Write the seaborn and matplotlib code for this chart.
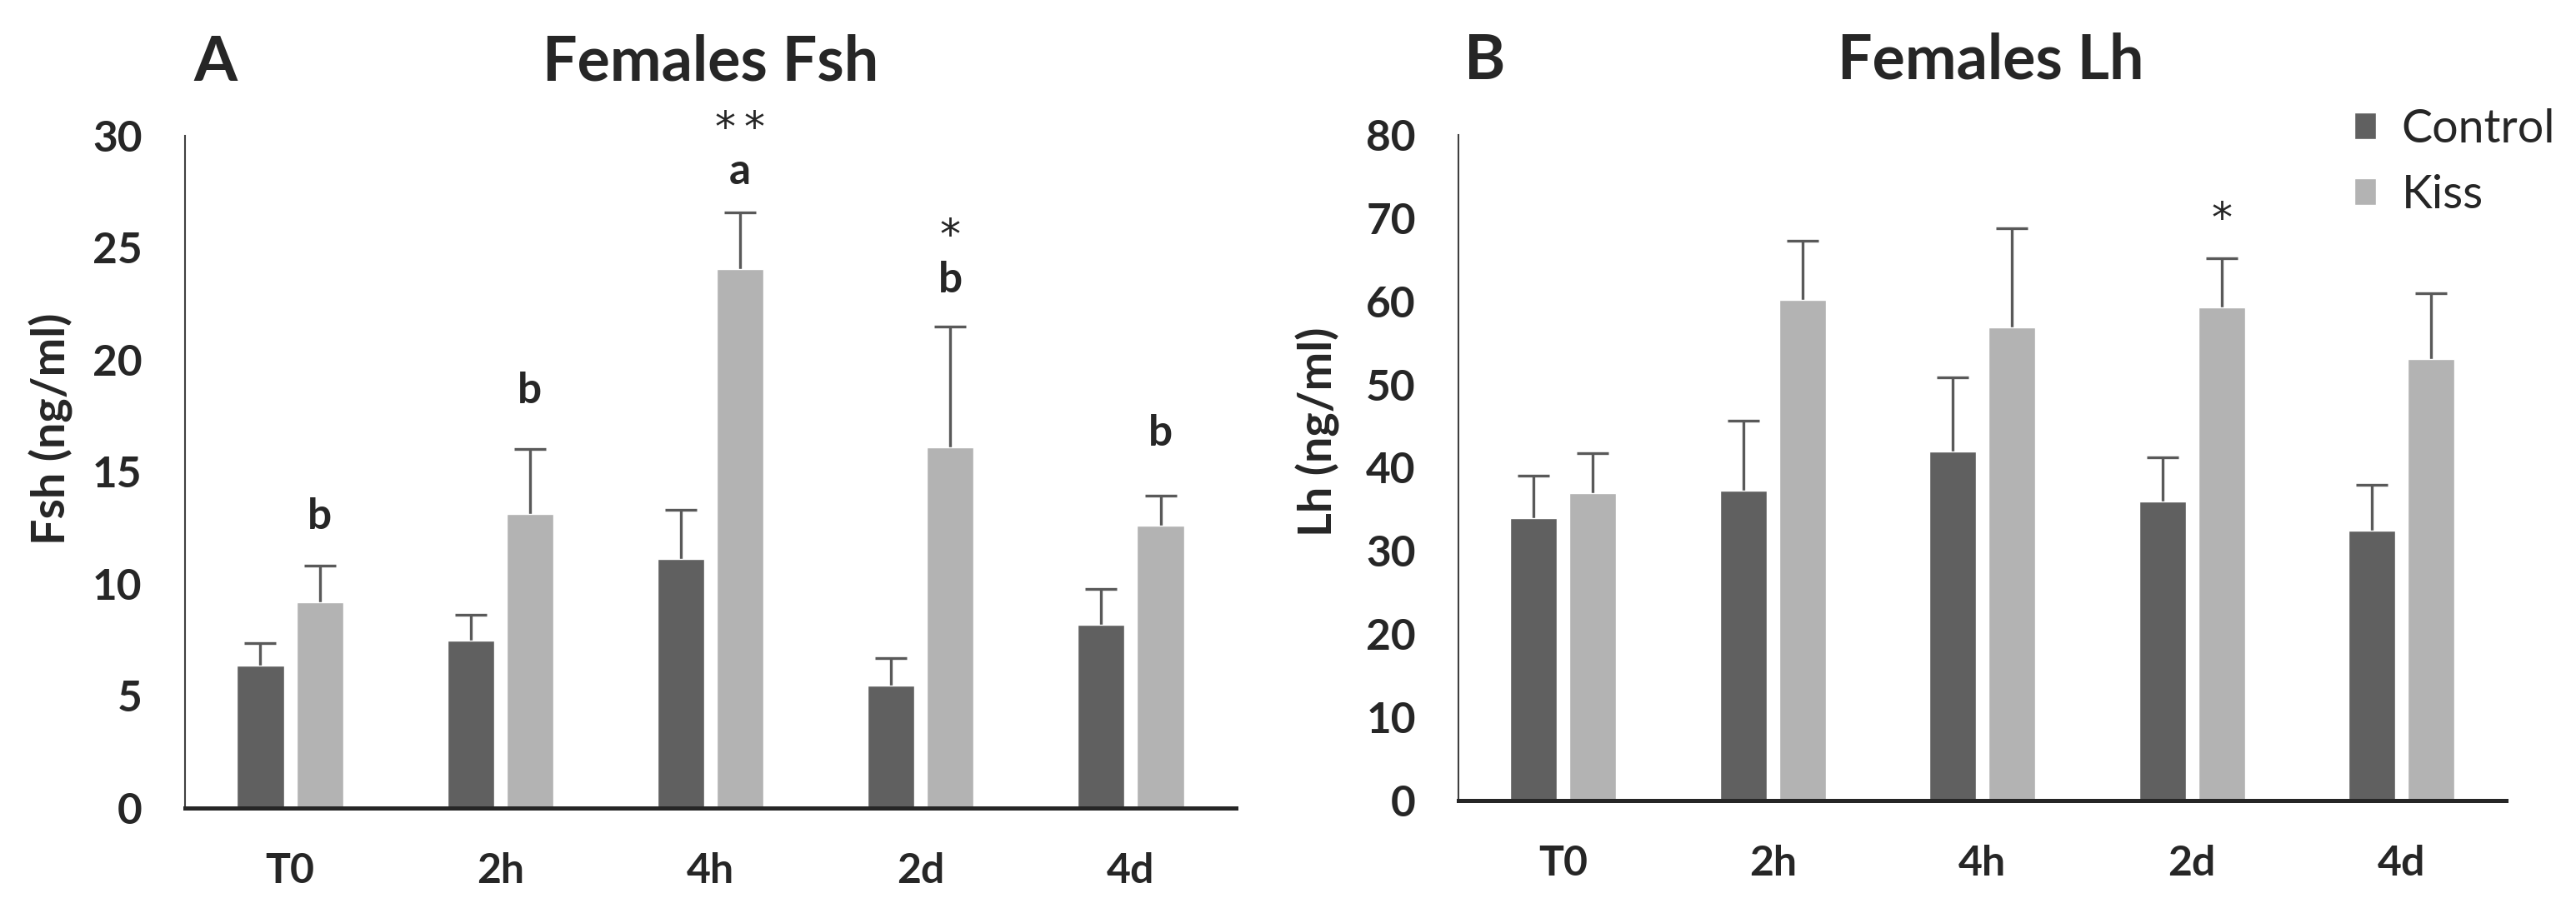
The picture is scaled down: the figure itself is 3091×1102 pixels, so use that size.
import numpy as np
import pandas as pd
import matplotlib
matplotlib.use("Agg")
import matplotlib.pyplot as plt
import seaborn as sns

# valores (media y error estandar)
tiempos = ["T0", "2h", "4h", "2d", "4d"]
grupos = ["Control", "Kiss"]

fsh_control = [6.35, 7.47, 11.1, 5.46, 8.18]
fsh_control_err = [1.0, 1.15, 2.2, 1.23, 1.59]
fsh_kiss = [9.2, 13.12, 24.07, 16.1, 12.62]
fsh_kiss_err = [1.62, 2.92, 2.5, 5.4, 1.33]

# letras y asteriscos (altura en unidades del eje)
fsh_letras = ["b", "b", "a", "b", "b"]
fsh_letras_y = [13.1, 18.7, 28.5, 23.65, 16.8]
fsh_asteriscos = ["", "", "*\u2009*", "*", ""]
fsh_asteriscos_y = [0, 0, 30.7, 25.9, 0]

lh_control = [33.9, 37.2, 41.9, 35.9, 32.4]
lh_control_err = [5.1, 8.5, 9.0, 5.3, 5.5]
lh_kiss = [36.9, 60.2, 56.9, 59.3, 53.1]
lh_kiss_err = [4.8, 7.1, 11.9, 5.9, 7.9]
lh_asteriscos = ["", "", "", "*", ""]
lh_asteriscos_y = [0, 0, 0, 70.9, 0]

OSCURO = "#606060"
CLARO = "#b3b3b3"
ERR = "#595959"


def armar_df(control, kiss):
    filas = []
    for i, t in enumerate(tiempos):
        filas.append([t, "Control", control[i]])
        filas.append([t, "Kiss", kiss[i]])
    return pd.DataFrame(filas, columns=["Tiempo", "Grupo", "Valor"])


def dibujar_panel(ax, control, c_err, kiss, k_err, ymax, paso, ylabel):
    df = armar_df(control, kiss)
    sns.barplot(data=df, x="Tiempo", y="Valor", hue="Grupo", order=tiempos,
                hue_order=grupos, palette=[OSCURO, CLARO], width=0.564, gap=0.21,
                errorbar=None, saturation=1, ax=ax, legend=False)
    centros = []
    for cont, errs in zip(ax.containers, [c_err, k_err]):
        xs = [p.get_x() + p.get_width() / 2 for p in cont]
        hs = [p.get_height() for p in cont]
        ax.errorbar(xs, hs, yerr=errs, fmt="none", ecolor=ERR, elinewidth=2.4,
                    capsize=14, capthick=2.4, zorder=0.5)
        centros.append(xs)
    ax.set_xlim(-0.5, 4.5)
    ax.set_ylim(0, ymax)
    ax.set_yticks(np.arange(0, ymax + 1, paso))
    ax.set_xlabel("")
    ax.set_ylabel(ylabel, fontsize=40, fontweight="bold")
    sns.despine(ax=ax)
    ax.spines["left"].set_linewidth(1.5)
    ax.spines["left"].set_color("#404040")
    ax.spines["bottom"].set_linewidth(3.6)
    ax.spines["bottom"].set_color("#262626")
    ax.tick_params(axis="y", direction="out", length=12, width=1.5, color="#404040",
                   pad=25, labelsize=37)
    ax.tick_params(axis="x", length=0, pad=38, labelsize=36)
    for lab in ax.get_xticklabels() + ax.get_yticklabels():
        lab.set_fontweight("bold")
    return centros[1]


def poner_asteriscos(ax, xs, textos, alturas):
    for x, s, y in zip(xs, textos, alturas):
        if s:
            ax.annotate(s, (x, y), xytext=(0, -8), textcoords="offset points",
                        ha="center", va="center", fontsize=36,
                        family=["DejaVu Sans"], annotation_clip=False)


sns.set_style("white")
plt.rcParams["font.family"] = ["Lato", "DejaVu Sans"]

fig = plt.figure(figsize=(30.91, 11.02), dpi=100)
ax_a = fig.add_axes([0.0718, 0.1198, 0.408, 0.7323])
ax_b = fig.add_axes([0.5662, 0.1280, 0.4067, 0.7250])

xs_a = dibujar_panel(ax_a, fsh_control, fsh_control_err, fsh_kiss, fsh_kiss_err,
                     30, 5, "Fsh (ng/ml)")
xs_b = dibujar_panel(ax_b, lh_control, lh_control_err, lh_kiss, lh_kiss_err,
                     80, 10, "Lh (ng/ml)")
ax_a.yaxis.set_label_coords(-0.106, 0.564)
ax_b.yaxis.set_label_coords(-0.113, 0.554)

for x, letra, y in zip(xs_a, fsh_letras, fsh_letras_y):
    ax_a.annotate(letra, (x, y), xytext=(0, -2), textcoords="offset points",
                  ha="center", va="center", fontsize=37, fontweight="bold",
                  annotation_clip=False)
poner_asteriscos(ax_a, xs_a, fsh_asteriscos, fsh_asteriscos_y)
poner_asteriscos(ax_b, xs_b, lh_asteriscos, lh_asteriscos_y)

fig.text(0.0751, 0.912, "A", fontsize=54, fontweight="bold", ha="left", va="baseline")
fig.text(0.276, 0.912, "Females Fsh", fontsize=53, fontweight="bold", ha="center",
         va="baseline")
fig.text(0.5684, 0.914, "B", fontsize=54, fontweight="bold", ha="left", va="baseline")
fig.text(0.7729, 0.914, "Females Lh", fontsize=53, fontweight="bold", ha="center",
         va="baseline")

handles = [ax_b.containers[0][0], ax_b.containers[1][0]]
fig.legend(handles, grupos, loc="upper left", bbox_to_anchor=(0.9139, 0.882),
           frameon=False, fontsize=40, borderpad=0, handlelength=0.47,
           handleheight=0.5, handletextpad=0.55, labelspacing=0.5, borderaxespad=0)

fig.savefig("out.png", dpi=100)
